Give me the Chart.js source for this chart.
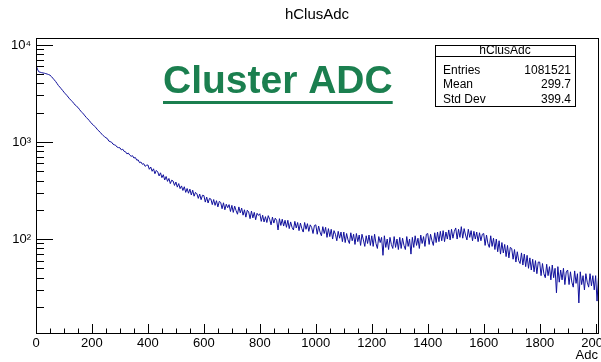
<!DOCTYPE html>
<html lang="en">
<head>
<meta charset="UTF-8">
<title>hClusAdc</title>
<style>
  html, body { margin: 0; padding: 0; background: #fff; }
  #wrap { width: 601px; height: 362px; }
</style>
</head>
<body>
<div id="wrap"><canvas id="grafico" width="601" height="362"></canvas></div>

<script src="https://cdn.jsdelivr.net/npm/chart.js"></script>
<script>
// histogram, one value every 5 ADC (counts per 1 ADC bin)
const binWidth = 5;
const counts = [
  // 0 - 295
  6200, 5600, 5250, 5200, 5150, 5110, 5080, 5030, 4980, 4920,
  4850, 4700, 4520, 4350, 4180, 3990, 3800, 3660, 3520, 3380,
  3240, 3120, 3010, 2890, 2770, 2680, 2590, 2490, 2390, 2320,
  2260, 2160, 2070, 2000, 1930, 1850, 1780, 1720, 1660, 1590,
  1530, 1490, 1440, 1390, 1330, 1290, 1250, 1200, 1160, 1130,
  1100, 1080, 1020, 1005, 992, 948, 932, 920, 882, 872,
  // 300 - 395
  868, 826, 840, 798, 790, 752, 766, 731, 710, 720,
  681, 690, 648, 652, 611, 620, 588, 596, 560, 574,
  // 400 - 495
  578, 522, 551, 498, 528, 470, 508, 491, 446, 480,
  428, 459, 405, 440, 392, 420, 372, 403, 395, 356,
  // 500 - 595
  386, 342, 372, 330, 352, 316, 345, 302, 331, 296,
  326, 284, 318, 276, 302, 292, 262, 290, 254, 282,
  // 600 - 695
  280, 240, 270, 235, 262, 258, 226, 255, 222, 248,
  214, 244, 238, 205, 236, 200, 228, 210, 226, 192,
  // 700 - 795
  222, 188, 218, 196, 180, 214, 186, 208, 176, 200,
  168, 198, 190, 162, 194, 165, 188, 158, 184, 175,
  // 800 - 895
  182, 152, 176, 150, 170, 148, 174, 160, 140, 168,
  146, 164, 156, 124, 162, 138, 160, 136, 156, 132,
  // 900 - 995
  156, 128, 150, 132, 124, 152, 130, 148, 122, 146,
  128, 118, 148, 126, 144, 120, 140, 132, 114, 138,
  // 1000 - 1095
  140, 112, 136, 118, 108, 134, 114, 132, 104, 128,
  106, 126, 100, 122, 112, 96, 120, 102, 118, 94,
  // 1100 - 1195
  118, 92, 114, 98, 90, 116, 96, 112, 88, 114,
  94, 110, 86, 112, 98, 84, 108, 90, 110, 86,
  // 1200 - 1295
  108, 84, 112, 90, 80, 106, 92, 104, 68, 108,
  82, 100, 78, 104, 88, 80, 106, 82, 100, 78,
  // 1300 - 1395
  104, 80, 102, 86, 78, 106, 84, 100, 70, 104,
  82, 108, 86, 102, 80, 110, 90, 106, 84, 112,
  // 1400 - 1495
  114, 88, 112, 96, 86, 116, 92, 118, 94, 120,
  96, 122, 94, 118, 100, 124, 98, 126, 102, 120,
  // 1500 - 1595
  130, 100, 126, 104, 134, 102, 128, 110, 98, 126,
  104, 122, 96, 120, 100, 118, 94, 116, 96, 112,
  // 1600 - 1695
  114, 86, 110, 90, 82, 108, 84, 102, 78, 100,
  74, 96, 70, 92, 72, 88, 66, 86, 64, 82,
  // 1700 - 1795
  80, 62, 78, 58, 74, 60, 56, 72, 54, 70,
  52, 68, 50, 64, 48, 62, 46, 60, 44, 58,
  // 1800 - 1895
  58, 42, 56, 44, 40, 55, 42, 52, 38, 54,
  40, 50, 28, 52, 36, 48, 38, 50, 34, 46,
  // 1900 - 1995
  48, 34, 46, 36, 32, 47, 35, 44, 22, 46,
  34, 42, 30, 44, 36, 32, 44, 33, 42, 30,
  // 2000 - 2010
  42, 23, 40
];
const xTicks = [0, 200, 400, 600, 800, 1000, 1200, 1400, 1600, 1800, 2000];
const yTicks = [100, 1000, 10000];
const yTickLabels = ['10\u00B2', '10\u00B3', '10\u2074'];
const statsLabels = ['Entries', 'Mean', 'Std Dev'];
const statsValues = ['1081521', '299.7', '399.4'];

const X_MIN = 0, X_MAX = 2012;
const Y_MIN = 10.8, Y_MAX = 11700;

// histogram starts from the bottom of the axis, like ROOT draws it
const puntos = [{ x: 0, y: Y_MIN }];
counts.forEach((c, i) => puntos.push({ x: i * binWidth, y: c }));

const FONT = '"Liberation Sans", Arial, sans-serif';

// ROOT style frame, ticks, labels, title, stats box and the big label
const marcoRoot = {
  id: 'marcoRoot',
  beforeDraw(chart) {
    const ctx = chart.ctx;
    ctx.save();
    ctx.fillStyle = '#fff';
    ctx.fillRect(0, 0, chart.width, chart.height);
    ctx.restore();
  },
  afterDatasetsDraw(chart) {
    const ctx = chart.ctx;
    const a = chart.chartArea;
    const xs = chart.scales.x, ys = chart.scales.y;
    ctx.save();

    // frame
    ctx.strokeStyle = '#000';
    ctx.lineWidth = 1;
    ctx.strokeRect(a.left + 0.5, a.top + 0.5, a.right - a.left - 1, a.bottom - a.top);

    // x ticks (major 200, minor 50)
    ctx.beginPath();
    for (let v = 0; v <= X_MAX; v += 50) {
      const px = Math.round(xs.getPixelForValue(v)) + 0.5;
      const len = v % 200 === 0 ? 9 : 4.5;
      ctx.moveTo(px, a.bottom);
      ctx.lineTo(px, a.bottom - len);
    }
    // y ticks (decades long, 2..9 short)
    for (let d = 10; d <= 10000; d *= 10) {
      for (let m = 1; m <= 9; m++) {
        const v = d * m;
        if (v < Y_MIN || v > Y_MAX) continue;
        const py = Math.round(ys.getPixelForValue(v)) + 0.5;
        const len = m === 1 ? 17 : 8;
        ctx.moveTo(a.left, py);
        ctx.lineTo(a.left + len, py);
      }
    }
    ctx.stroke();

    // tick labels
    ctx.fillStyle = '#000';
    ctx.font = '13px ' + FONT;
    ctx.textAlign = 'center';
    ctx.textBaseline = 'alphabetic';
    xTicks.forEach(v => ctx.fillText(String(v), xs.getPixelForValue(v), 347));
    ctx.textAlign = 'right';
    yTicks.forEach((v, i) => ctx.fillText(yTickLabels[i], 31, ys.getPixelForValue(v) + 4));
    ctx.fillText('Adc', 598, 359);

    // title
    ctx.textAlign = 'center';
    ctx.font = '15px ' + FONT;
    ctx.fillText('hClusAdc', 317, 19);

    // stats box
    const bx = 435, by = 45, bw = 140, bh = 61;
    ctx.fillStyle = '#fff';
    ctx.fillRect(bx, by, bw, bh);
    ctx.strokeStyle = '#000';
    ctx.strokeRect(bx + 0.5, by + 0.5, bw, bh);
    ctx.beginPath();
    ctx.moveTo(bx, 56.5);
    ctx.lineTo(bx + bw, 56.5);
    ctx.stroke();
    ctx.fillStyle = '#000';
    ctx.font = '12px ' + FONT;
    ctx.textAlign = 'center';
    ctx.fillText('hClusAdc', bx + bw / 2, 54);
    const filas = [73.5, 88, 102.5];
    statsLabels.forEach((t, i) => {
      ctx.textAlign = 'left';
      ctx.fillText(t, 443, filas[i]);
      ctx.textAlign = 'right';
      ctx.fillText(statsValues[i], 571, filas[i]);
    });

    // big green label
    ctx.fillStyle = '#1b7f4f';
    ctx.font = 'bold 39px ' + FONT;
    ctx.textAlign = 'left';
    ctx.fillText('Cluster ADC', 163, 93);
    const w = ctx.measureText('Cluster ADC').width;
    ctx.fillRect(163, 101, w, 3);

    ctx.restore();
  }
};

new Chart(document.getElementById('grafico').getContext('2d'), {
  type: 'line',
  data: {
    datasets: [{
      label: 'hClusAdc',
      data: puntos,
      borderColor: '#10109c',
      borderWidth: 1,
      pointRadius: 0,
      tension: 0,
      fill: false
    }]
  },
  options: {
    responsive: false,
    animation: false,
    devicePixelRatio: 1,
    layout: { padding: { top: 38, right: 2, left: 0, bottom: 0 } },
    plugins: { legend: { display: false }, tooltip: { enabled: false }, title: { display: false } },
    scales: {
      x: {
        type: 'linear',
        min: X_MIN,
        max: X_MAX,
        grid: { display: false },
        border: { display: false },
        ticks: { display: false },
        afterFit(s) { s.height = 29; }
      },
      y: {
        type: 'logarithmic',
        min: Y_MIN,
        max: Y_MAX,
        grid: { display: false },
        border: { display: false },
        ticks: { display: false },
        afterFit(s) { s.width = 36; }
      }
    }
  },
  plugins: [marcoRoot]
});
</script>
</body>
</html>
